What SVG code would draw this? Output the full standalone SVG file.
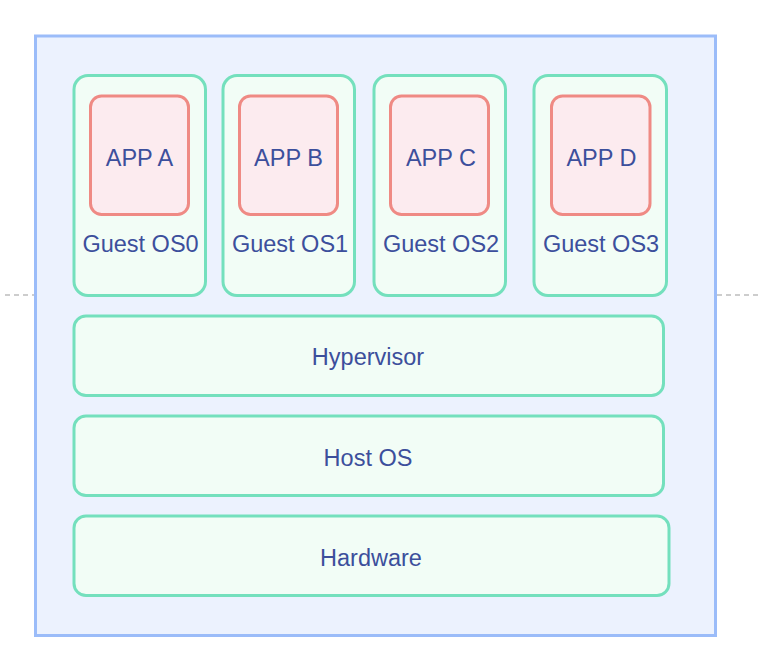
<svg xmlns="http://www.w3.org/2000/svg" width="758" height="670" viewBox="0 0 758 670">
<style>
.t{font-family:"Liberation Sans",Arial,sans-serif;font-size:23.5px;fill:#3c4f9c;text-anchor:middle}
.os{fill:#f2fdf6;stroke:#74e0bd;stroke-width:3}
.app{fill:#fcebef;stroke:#ef8a84;stroke-width:3}
</style>
<rect width="758" height="670" fill="#ffffff"/>
<g id="connectors">
<line x1="5" y1="295" x2="35" y2="295" stroke="#bdbdbd" stroke-width="1.5" stroke-dasharray="5,4"/>
<line x1="717" y1="295" x2="758" y2="295" stroke="#bdbdbd" stroke-width="1.5" stroke-dasharray="5,4"/>
</g>
<g id="host">
<rect x="35.5" y="36" width="680" height="599.5" fill="#ecf2fe" stroke="#9bbcf9" stroke-width="3"/>
</g>
<g id="guest0"><rect class="os" x="74" y="75.5" width="131.5" height="220" rx="14"/><text class="t" x="140.5" y="252">Guest OS0</text></g>
<g id="appA"><rect class="app" x="90.5" y="96" width="98" height="118.5" rx="11"/><text class="t" x="139.5" y="166">APP A</text></g>
<g id="guest1"><rect class="os" x="223" y="75.5" width="131.5" height="220" rx="14"/><text class="t" x="290" y="252">Guest OS1</text></g>
<g id="appB"><rect class="app" x="239.5" y="96" width="98" height="118.5" rx="11"/><text class="t" x="288.5" y="166">APP B</text></g>
<g id="guest2"><rect class="os" x="374" y="75.5" width="131.5" height="220" rx="14"/><text class="t" x="441" y="252">Guest OS2</text></g>
<g id="appC"><rect class="app" x="390.5" y="96" width="98" height="118.5" rx="11"/><text class="t" x="441" y="166">APP C</text></g>
<g id="guest3"><rect class="os" x="534" y="75.5" width="132.5" height="220" rx="14"/><text class="t" x="601" y="252">Guest OS3</text></g>
<g id="appD"><rect class="app" x="551.5" y="96" width="98.5" height="118.5" rx="11"/><text class="t" x="601.5" y="166">APP D</text></g>
<g id="hypervisor"><rect class="os" x="74" y="316" width="589.5" height="79.5" rx="12"/><text class="t" x="368" y="365">Hypervisor</text></g>
<g id="hostos"><rect class="os" x="74" y="416" width="589.5" height="79.5" rx="12"/><text class="t" x="368" y="466">Host OS</text></g>
<g id="hardware"><rect class="os" x="74" y="516" width="595" height="79.5" rx="12"/><text class="t" x="371" y="566">Hardware</text></g>
</svg>
